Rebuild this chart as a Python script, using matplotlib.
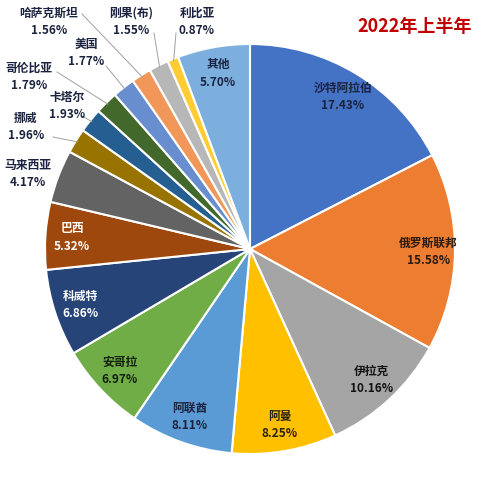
import numpy as np
import matplotlib
matplotlib.use('Agg')
import matplotlib.pyplot as plt

plt.rcParams['font.family'] = ['Noto Sans CJK SC', 'DejaVu Sans']

countries = ['沙特阿拉伯', '俄罗斯联邦', '伊拉克', '阿曼', '阿联酋', '安哥拉', '科威特', '巴西',
             '马来西亚', '挪威', '卡塔尔', '哥伦比亚', '美国', '哈萨克斯坦', '刚果(布)', '利比亚', '其他']
shares = [17.43, 15.58, 10.16, 8.25, 8.11, 6.97, 6.86, 5.32,
          4.17, 1.96, 1.93, 1.79, 1.77, 1.56, 1.55, 0.87, 5.70]
colors = ['#4472C4', '#ED7D31', '#A5A5A5', '#FFC000', '#5B9BD5', '#70AD47', '#264478', '#9E480E',
          '#636363', '#997300', '#255E91', '#43682B', '#698ED0', '#F1975A', '#B7B7B7', '#FFCD33', '#7CAFDD']
title = '2022年上半年'

# label text colours (white on the dark wedges)
text_colors = ['#1b2340', '#2a1a10', '#111111', '#2a2210', '#1b2340', '#13200d', 'white', 'white',
               '#1b2340', '#1b2340', '#1b2340', '#1b2340', '#1b2340', '#1b2340', '#1b2340', '#1b2340', '#1b2340']

# outside labels: pixel position of the label centre in the 500x500 picture
outside = {
    '马来西亚': (28, 174),
    '挪威': (26, 127),
    '卡塔尔': (67, 106),
    '哥伦比亚': (29, 77),
    '美国': (86, 53),
    '哈萨克斯坦': (49, 22),
    '刚果(布)': (131, 22),
    '利比亚': (197, 22),
}
# where the leader line leaves the label (pixels)
leader_start = {
    '挪威': (53, 137),
    '卡塔尔': (82, 116),
    '哥伦比亚': (57, 72),
    '美国': (106, 66),
    '哈萨克斯坦': (82, 14),
    '刚果(布)': (154, 33),
    '利比亚': (176, 33),
}

CX, CY, R = 250, 249, 205


def to_data(px, py):
    return (px - CX) / R, (CY - py) / R


fig = plt.figure(figsize=(5, 5), dpi=100)
ax = fig.add_axes([(CX - R) / 500, (500 - CY - R) / 500, 2 * R / 500, 2 * R / 500])
wedges, _ = ax.pie(shares, colors=colors, startangle=90, counterclock=False,
                   wedgeprops=dict(edgecolor='white', linewidth=1.5))
ax.set_xlim(-1, 1)
ax.set_ylim(-1, 1)
ax.set_aspect('equal')

for w, name, val, tc in zip(wedges, countries, shares, text_colors):
    mid = np.deg2rad((w.theta1 + w.theta2) / 2)
    label = f'{name}\n{val:.2f}%'
    if name in outside:
        lx, ly = to_data(*outside[name])
        ax.text(lx, ly, label, ha='center', va='center', fontsize=8.5, fontweight='bold',
                color=tc, linespacing=1.45, clip_on=False)
        if name in leader_start:
            sx, sy = to_data(*leader_start[name])
            ex, ey = 0.99 * np.cos(mid), 0.99 * np.sin(mid)
            ax.plot([sx, ex], [sy, ey], color='#a0a0a0', lw=0.7, clip_on=False)
    else:
        r = 0.87
        ax.text(r * np.cos(mid), r * np.sin(mid), label, ha='center', va='center',
                fontsize=8.5, fontweight='bold', color=tc, linespacing=1.45)

fig.text(415 / 500, 1 - 27 / 500, title, ha='center', va='center', fontsize=13,
         fontweight='bold', color='#C00000')

fig.savefig('out.png', dpi=100)
